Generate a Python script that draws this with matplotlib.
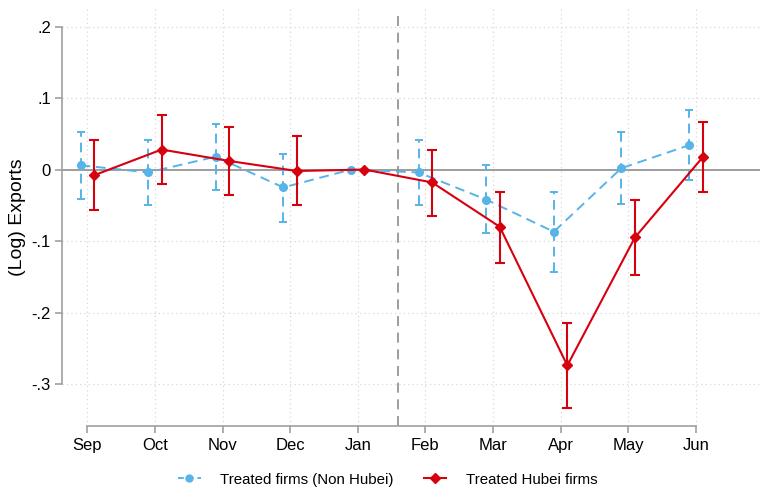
import numpy as np
import matplotlib.pyplot as plt
from matplotlib.lines import Line2D

plt.rcParams['font.family'] = ['Liberation Sans', 'DejaVu Sans']

months = ["Sep", "Oct", "Nov", "Dec", "Jan", "Feb", "Mar", "Apr", "May", "Jun"]

# Treated firms (Non Hubei)
nh_coef = [0.006, -0.004, 0.018, -0.025, 0.0, -0.004, -0.042, -0.087, 0.002, 0.034]
nh_hi = [0.053, 0.042, 0.064, 0.022, 0.0, 0.042, 0.006, -0.032, 0.052, 0.083]
nh_lo = [-0.041, -0.050, -0.029, -0.073, 0.0, -0.049, -0.089, -0.143, -0.048, -0.015]

# Treated Hubei firms
hb_coef = [-0.008, 0.028, 0.012, -0.002, 0.0, -0.018, -0.080, -0.274, -0.095, 0.017]
hb_hi = [0.042, 0.077, 0.060, 0.047, 0.0, 0.028, -0.031, -0.215, -0.043, 0.067]
hb_lo = [-0.057, -0.020, -0.036, -0.050, 0.0, -0.065, -0.130, -0.333, -0.147, -0.032]

yticks = [-0.3, -0.2, -0.1, 0, 0.1, 0.2]
ytick_labels = ["-.3", "-.2", "-.1", "0", ".1", ".2"]

blue = "#56b4e9"
red = "#d7000f"
gray = "#a0a0a0"

x = np.arange(len(months))
xb = x - 0.1
xr = x + 0.1

fig = plt.figure(figsize=(7.63, 4.87), dpi=100)
ax = fig.add_axes([62 / 763, 1 - 426 / 487, (760 - 62) / 763, (426 - 8) / 487])

ax.set_xlim(-0.374, 9.95)
ax.set_ylim(-0.3587, 0.226)

# grid
for yy in yticks:
    if yy != 0:
        ax.axhline(yy, color="#d8d8d8", lw=0.9, ls=(0, (1, 2.5)), zorder=0)
for xx in x:
    ax.axvline(xx, color="#d8d8d8", lw=0.9, ls=(0, (1, 2.5)), zorder=0)
ax.axhline(0, color="#8c8c8c", lw=1.2, zorder=1)
ax.axvline(4.6, color="#8c8c8c", lw=1.2, ls=(0, (6, 4)),
           ymax=(0.22 + 0.3587) / (0.226 + 0.3587), zorder=1)

nh_coef = np.array(nh_coef)
hb_coef = np.array(hb_coef)
nh_err = [nh_coef - np.array(nh_lo), np.array(nh_hi) - nh_coef]
hb_err = [hb_coef - np.array(hb_lo), np.array(hb_hi) - hb_coef]

eb1 = ax.errorbar(xb, nh_coef, yerr=nh_err, fmt="o", color=blue, ms=5.5,
                  ecolor=blue, elinewidth=1.4, capsize=3, capthick=1.4, zorder=3)
eb1[2][0].set_linestyle((0, (5, 3)))
ax.plot(xb, nh_coef, color=blue, lw=1.4, ls=(0, (5, 3)), zorder=3)

ax.errorbar(xr, hb_coef, yerr=hb_err, fmt="D", color=red, ms=5.5,
            ecolor=red, elinewidth=1.5, capsize=3.5, capthick=1.5, zorder=4)
ax.plot(xr, hb_coef, color=red, lw=1.5, zorder=4)

ax.set_xticks(x)
ax.set_xticklabels(months, fontsize=12)
ax.set_yticks(yticks)
ax.set_yticklabels(ytick_labels, fontsize=12)
ax.set_ylabel("(Log) Exports", fontsize=14, labelpad=4)

for s in ["top", "right"]:
    ax.spines[s].set_visible(False)
ax.spines["left"].set_bounds(-0.3, 0.2)
ax.spines["bottom"].set_bounds(0, 9)
for s in ["left", "bottom"]:
    ax.spines[s].set_color(gray)
    ax.spines[s].set_linewidth(1.2)
ax.tick_params(axis="both", colors=gray, labelcolor="black", length=5, width=1.2)
ax.tick_params(axis="y", pad=3)

h1 = Line2D([], [], color=blue, marker="o", ms=5, lw=1.4, ls=(0, (3, 2)))
h2 = Line2D([], [], color=red, marker="D", ms=5, lw=1.5)
fig.legend([h1, h2], ["Treated firms (Non Hubei)", "Treated Hubei firms"],
           loc="center", bbox_to_anchor=(0.508, 0.015), ncol=2, frameon=False,
           fontsize=10.8, handlelength=1.5, columnspacing=2.0, handletextpad=1.3)

fig.savefig("out.png", dpi=100)
